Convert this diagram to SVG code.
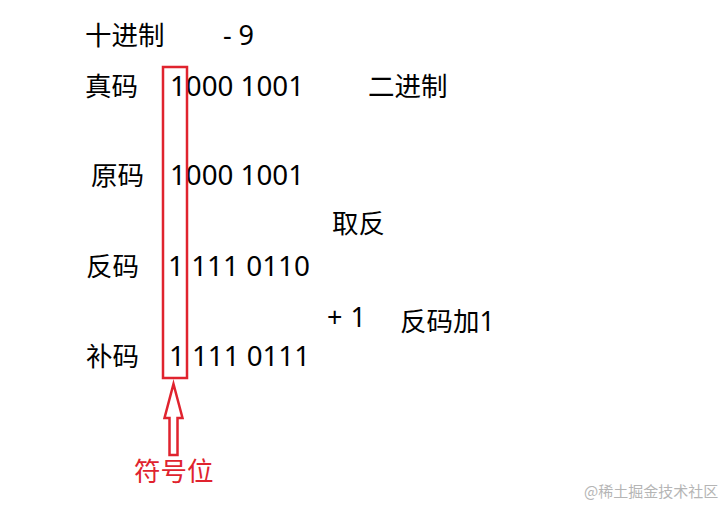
<svg xmlns="http://www.w3.org/2000/svg" width="725" height="506" viewBox="0 0 725 506">
<style>
.t{font-family:"Noto Sans","Noto Sans CJK SC",sans-serif;font-size:26.5px;fill:#000}
.n{font-family:"Noto Sans","Noto Sans CJK SC",sans-serif;font-size:27px;fill:#000}
.red{fill:none;stroke:#e0232e;stroke-width:2.5}
.lbl{font-family:"Noto Sans CJK SC",sans-serif;font-size:26.5px;fill:#e0232e}
.wm{font-family:"Noto Sans CJK SC",sans-serif;font-size:15px;fill:#b5b5b5}
</style>
<rect width="725" height="506" fill="#fff"/>
<g id="decimal">
<text class="t" x="85" y="45">十进制</text>
<text class="n" x="223" y="45" textLength="31" lengthAdjust="spacing">- 9</text>
</g>
<g id="truecode">
<text class="t" x="85" y="96">真码</text>
<text class="n" x="170" y="96" textLength="134" lengthAdjust="spacingAndGlyphs">1000 1001</text>
<text class="t" x="368" y="96">二进制</text>
</g>
<g id="original">
<text class="t" x="91" y="185">原码</text>
<text class="n" x="170" y="185" textLength="134" lengthAdjust="spacingAndGlyphs">1000 1001</text>
</g>
<g id="invert">
<text class="t" x="332" y="233">取反</text>
</g>
<g id="ones">
<text class="t" x="86" y="276">反码</text>
<text class="n" x="168" y="276" textLength="142" lengthAdjust="spacingAndGlyphs">1 111 0110</text>
</g>
<g id="plusone">
<text class="n" x="327" y="327" textLength="39" lengthAdjust="spacing">+ 1</text>
<text class="t" x="400" y="331">反码加1</text>
</g>
<g id="twos">
<text class="t" x="86" y="366">补码</text>
<text class="n" x="169" y="366" textLength="141" lengthAdjust="spacingAndGlyphs">1 111 0111</text>
</g>
<g id="signbit">
<rect class="red" x="163" y="67" width="24" height="311"/>
<path class="red" d="M173.5 384 L182.5 418 L177.5 418 L177.5 455 L169.5 455 L169.5 418 L164.5 418 Z"/>
<text class="lbl" x="134" y="481">符号位</text>
</g>
<text class="wm" x="584" y="497">@稀土掘金技术社区</text>
</svg>
